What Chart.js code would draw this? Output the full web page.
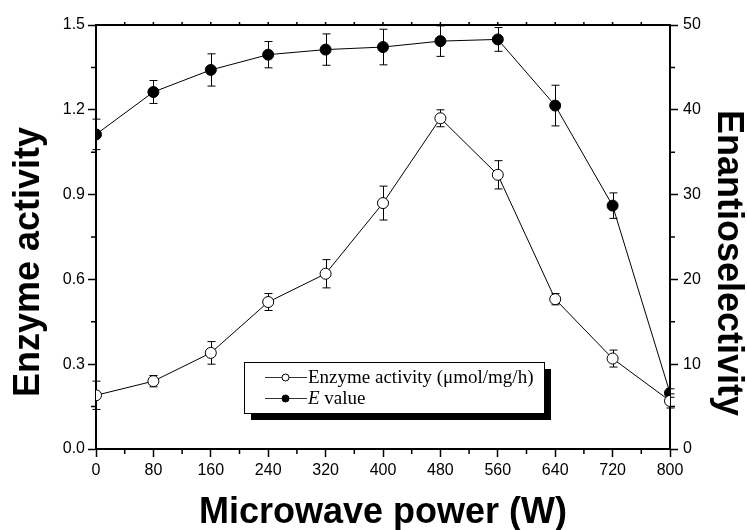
<!DOCTYPE html>
<html>
<head>
<meta charset="utf-8">
<script src="https://cdn.jsdelivr.net/npm/chart.js@4"></script>
<style>
  html, body { margin: 0; padding: 0; background: #fff; }
  #wrap { width: 747px; height: 530px; position: relative; }
</style>
</head>
<body>
<div id="wrap"><canvas id="c" width="747" height="530"></canvas></div>
<script>
// ---- data ----
const powers = [0, 80, 160, 240, 320, 400, 480, 560, 640, 720, 800];
const enzymeActivity = [0.19, 0.24, 0.34, 0.52, 0.62, 0.87, 1.17, 0.97, 0.53, 0.32, 0.17];
const enzymeError    = [0.05, 0.02, 0.04, 0.03, 0.05, 0.06, 0.03, 0.05, 0.02, 0.03, 0.025];
const eValue = [37.1, 42.1, 44.7, 46.5, 47.1, 47.4, 48.1, 48.3, 40.5, 28.7, 6.6];
const eError = [1.8, 1.35, 1.9, 1.55, 1.85, 2.1, 1.8, 1.4, 2.4, 1.5, 0.5];
const xTickStep = 80;
const leftTickStep = 0.3;
const rightTickStep = 10;
const legendLabels = ['Enzyme activity (\u03bcmol/mg/h)', 'value'];
const xTitle = 'Microwave power (W)';
const yTitle = 'Enzyme activity';
const y1Title = 'Enantioselectivity';

const SANS = '"Liberation Sans", Arial, Helvetica, sans-serif';
const SERIF = '"Liberation Serif", "Times New Roman", Times, serif';

const errorBars = {
  id: 'errorBars',
  beforeDatasetsDraw(chart) {
    const ctx = chart.ctx;
    ctx.save();
    ctx.strokeStyle = '#000';
    ctx.lineWidth = 1;
    const sets = [
      { scale: chart.scales.y, vals: enzymeActivity, errs: enzymeError },
      { scale: chart.scales.y1, vals: eValue, errs: eError }
    ];
    const xs = chart.scales.x;
    sets.forEach(s => {
      powers.forEach((p, i) => {
        const x = Math.round(xs.getPixelForValue(p)) + 0.5;
        const yt = s.scale.getPixelForValue(s.vals[i] + s.errs[i]);
        const yb = s.scale.getPixelForValue(s.vals[i] - s.errs[i]);
        ctx.beginPath();
        ctx.moveTo(x, yt); ctx.lineTo(x, yb);
        ctx.moveTo(x - 4, yt); ctx.lineTo(x + 4, yt);
        ctx.moveTo(x - 4, yb); ctx.lineTo(x + 4, yb);
        ctx.stroke();
      });
    });
    ctx.restore();
  }
};

const decor = {
  id: 'decor',
  afterDraw(chart) {
    const ctx = chart.ctx;
    const a = chart.chartArea;
    const xs = chart.scales.x, ys = chart.scales.y, y1 = chart.scales.y1;
    ctx.save();
    ctx.strokeStyle = '#000';
    // top border
    ctx.lineWidth = 2;
    ctx.beginPath();
    ctx.moveTo(a.left - 1, a.top); ctx.lineTo(a.right + 1, a.top);
    ctx.stroke();
    // minor ticks
    ctx.lineWidth = 1.5;
    ctx.beginPath();
    for (let v = 40; v < 800; v += 80) {
      const x = xs.getPixelForValue(v);
      ctx.moveTo(x, a.bottom); ctx.lineTo(x, a.bottom + 5);
    }
    for (let v = 40; v < 800; v += 40) {
      const x = xs.getPixelForValue(v);
      ctx.moveTo(x, a.top); ctx.lineTo(x, a.top - 3);
    }
    for (let v = 0.15; v < 1.5; v += 0.3) {
      const y = ys.getPixelForValue(v);
      ctx.moveTo(a.left, y); ctx.lineTo(a.left - 5, y);
    }
    for (let v = 5; v < 50; v += 10) {
      const y = y1.getPixelForValue(v);
      ctx.moveTo(a.right, y); ctx.lineTo(a.right + 5, y);
    }
    ctx.stroke();

    // axis titles
    ctx.fillStyle = '#000';
    ctx.font = 'bold 36px ' + SANS;
    ctx.textAlign = 'center';
    ctx.textBaseline = 'alphabetic';
    ctx.fillText(xTitle, (a.left + a.right) / 2, 523);
    ctx.save();
    ctx.translate(39, 262);
    ctx.rotate(-Math.PI / 2);
    ctx.fillText(yTitle, 0, 0);
    ctx.restore();
    ctx.save();
    ctx.translate(718, 263);
    ctx.rotate(Math.PI / 2);
    ctx.fillText(y1Title, 0, 0);
    ctx.restore();

    // legend
    const bx = 244, by = 362, bw = 300, bh = 51;
    ctx.fillStyle = '#000';
    ctx.fillRect(bx + 7, by + 7, bw, bh);
    ctx.fillStyle = '#fff';
    ctx.fillRect(bx, by, bw, bh);
    ctx.lineWidth = 1;
    ctx.strokeStyle = '#000';
    ctx.strokeRect(bx + 0.5, by + 0.5, bw, bh);
    const rows = [377, 398];
    rows.forEach((ry, i) => {
      ctx.strokeStyle = '#333';
      ctx.lineWidth = 1;
      ctx.beginPath();
      ctx.moveTo(265, ry + 0.5); ctx.lineTo(307, ry + 0.5);
      ctx.stroke();
      ctx.beginPath();
      ctx.arc(285.5, ry + 0.5, 3.5, 0, Math.PI * 2);
      ctx.fillStyle = i === 0 ? '#fff' : '#000';
      ctx.fill();
      ctx.strokeStyle = '#000';
      ctx.stroke();
    });
    ctx.fillStyle = '#000';
    ctx.textAlign = 'left';
    ctx.textBaseline = 'alphabetic';
    ctx.font = '19px ' + SERIF;
    ctx.fillText(legendLabels[0], 308, 383);
    ctx.font = 'italic 19px ' + SERIF;
    ctx.fillText('E', 308, 404);
    const ew = ctx.measureText('E').width;
    ctx.font = '19px ' + SERIF;
    ctx.fillText(' ' + legendLabels[1], 308 + ew, 404);
    ctx.restore();
  }
};

const tickFont = { family: SANS, size: 16 };

new Chart(document.getElementById('c'), {
  type: 'line',
  data: {
    datasets: [
      {
        label: legendLabels[0],
        data: powers.map((p, i) => ({ x: p, y: enzymeActivity[i] })),
        yAxisID: 'y',
        borderColor: '#000',
        borderWidth: 1,
        backgroundColor: '#fff',
        pointBackgroundColor: '#fff',
        pointBorderColor: '#000',
        pointBorderWidth: 1,
        pointRadius: 5.5,
        tension: 0
      },
      {
        label: 'E ' + legendLabels[1],
        data: powers.map((p, i) => ({ x: p, y: eValue[i] })),
        yAxisID: 'y1',
        borderColor: '#000',
        borderWidth: 1,
        backgroundColor: '#000',
        pointBackgroundColor: '#000',
        pointBorderColor: '#000',
        pointBorderWidth: 1,
        pointRadius: 5.5,
        tension: 0
      }
    ]
  },
  options: {
    responsive: false,
    animation: false,
    devicePixelRatio: 1,
    layout: { padding: { top: 25, left: 0, right: 0, bottom: 0 } },
    plugins: { legend: { display: false }, tooltip: { enabled: false } },
    scales: {
      x: {
        type: 'linear', min: 0, max: 800,
        afterFit: s => { s.height = 81; },
        ticks: { stepSize: xTickStep, color: '#000', font: tickFont, padding: 4, maxRotation: 0 },
        grid: { drawOnChartArea: false, tickLength: 8, tickColor: '#000', tickWidth: 1.5 },
        border: { color: '#000', width: 2 }
      },
      y: {
        type: 'linear', position: 'left', min: 0, max: 1.5,
        afterFit: s => { s.width = 96; },
        ticks: { stepSize: leftTickStep, color: '#000', font: tickFont, padding: 3,
                 callback: v => Number(v).toFixed(1) },
        grid: { drawOnChartArea: false, tickLength: 8, tickColor: '#000', tickWidth: 1.5 },
        border: { color: '#000', width: 2 }
      },
      y1: {
        type: 'linear', position: 'right', min: 0, max: 50,
        afterFit: s => { s.width = 77; },
        ticks: { stepSize: rightTickStep, color: '#000', font: tickFont, padding: 5 },
        grid: { drawOnChartArea: false, tickLength: 8, tickColor: '#000', tickWidth: 1.5 },
        border: { color: '#000', width: 2 }
      }
    }
  },
  plugins: [errorBars, decor]
});
</script>
</body>
</html>
